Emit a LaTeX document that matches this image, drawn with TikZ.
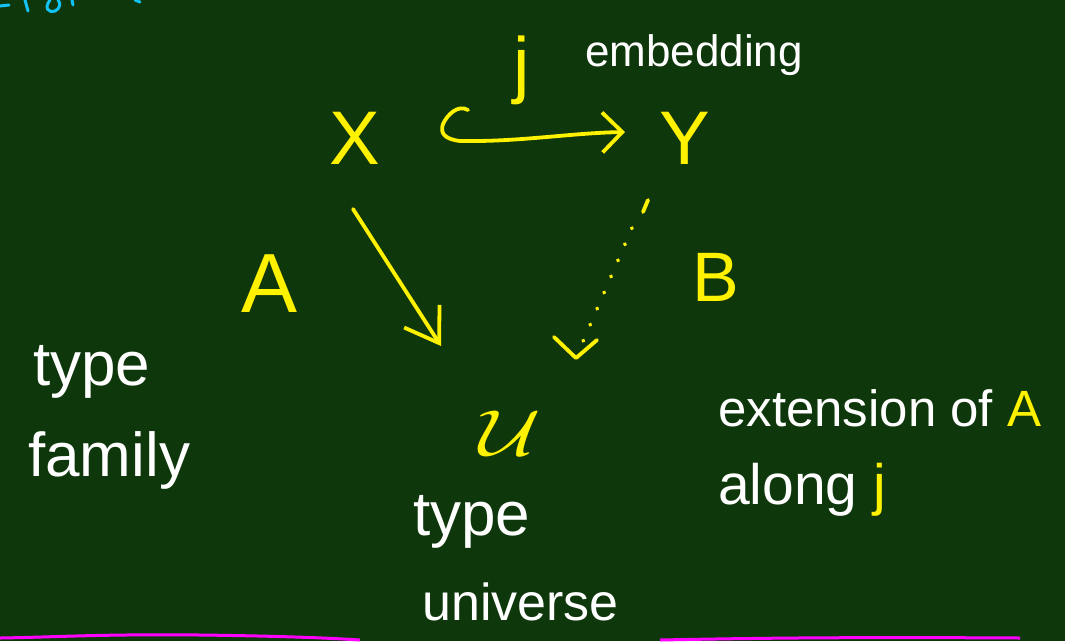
\documentclass[tikz,border=0pt]{standalone}
\usepackage{fontspec}
\setmainfont{Liberation Sans}
\usetikzlibrary{arrows.meta}
\definecolor{board}{RGB}{15,55,12}
\definecolor{chalkY}{RGB}{255,242,0}
\definecolor{chalkC}{RGB}{20,195,245}
\definecolor{chalkM}{RGB}{255,0,255}
\tikzset{
  ylab/.style={text=chalkY, inner sep=0pt, anchor=center},
  wlab/.style={text=white, inner sep=0pt, anchor=west, align=left},
  yline/.style={draw=chalkY, line width=3.8pt, line cap=round, line join=round},
  barb/.style={-{Straight Barb[length=20pt,width=40pt,line width=3.8pt]}},
  bigbarb/.style={-{Straight Barb[length=32pt,width=42pt,line width=3.8pt]}},
}
\begin{document}
\begin{tikzpicture}[x=1pt,y=-1pt]
\fill[board] (0,0) rectangle (1065,641);
\useasboundingbox (0,0) rectangle (1065,641);

% partial cyan text at the top edge
\draw[chalkC, line width=3pt, line cap=round] (0,6) -- (9,5);
\draw[chalkC, line width=3pt, line cap=round] (25,0) -- (28,11);
\draw[chalkC, line width=3pt, line cap=round] (50,0) .. controls (44,8) and (48,13) .. (55,11) .. controls (60,9) and (61,3) .. (58,0);
\draw[chalkC, line width=3pt, line cap=round] (72,0) -- (73,5);
\draw[chalkC, line width=3pt, line cap=round] (135,0) -- (140,2);

% main symbols
\node[ylab, font=\fontsize{76}{76}\selectfont] (X) at (355,138) {X};
\node[ylab, font=\fontsize{76}{76}\selectfont] (Y) at (685,138) {Y};
\node[ylab, font=\fontsize{74}{74}\selectfont] (j) at (522,70) {j};
\node[ylab, font=\fontsize{84}{84}\selectfont] (A) at (270,284) {A};
\node[ylab, font=\fontsize{70}{70}\selectfont] (B) at (716,277) {B};
\node[ylab, xscale=8.5, yscale=6.5] (U) at (510,433) {$\mathcal{U}$};

% white notes
\node[wlab, font=\fontsize{44}{44}\selectfont] (emb) at (585,55) {embedding};
\node[wlab, font=\fontsize{62}{60}\selectfont] (tf1) at (33,372) {type};
\node[wlab, font=\fontsize{62}{60}\selectfont] (tf2) at (28,460) {family};
\node[wlab, font=\fontsize{62}{60}\selectfont] (tu1) at (413,522) {type};
\node[wlab, font=\fontsize{52}{60}\selectfont] (tu2) at (422,602) {universe};
\node[wlab, font=\fontsize{51}{60}\selectfont] (ext) at (718,408) {extension of \textcolor{chalkY}{A}};
\node[wlab, font=\fontsize{57}{60}\selectfont] (alo) at (718,490) {along \textcolor{chalkY}{j}};

% hooked embedding arrow X -> Y
\coordinate (h0) at (468,110);
\coordinate (h1) at (625,132);
\draw[yline, barb] (h0) .. controls (458,104) and (447,115) .. (443,124)
  .. controls (440,133) and (444,139) .. (460,141)
  .. controls (520,142) and (570,133) .. (h1);

% solid arrow X -> U
\coordinate (s0) at (353,209);
\coordinate (s1) at (441,346);
\draw[yline, bigbarb] (s0) -- (s1);

% dotted arrow Y -> U
\coordinate (d0) at (648,200);
\coordinate (d1) at (576,358);
\draw[yline] (d0) -- (643,212);
\draw[yline, dash pattern=on 0.5pt off 17pt] (632,228) -- (581,346);
\draw[yline] (554,337) -- (d1) -- (597,340);

% magenta rule at the bottom
\draw[chalkM, line width=3pt] (0,638) .. controls (60,637) and (100,634) .. (200,635) .. controls (280,636) and (330,638) .. (360,640);
\draw[chalkM, line width=3pt] (660,640) .. controls (760,638) and (850,637) .. (1020,638);
\end{tikzpicture}
\end{document}
